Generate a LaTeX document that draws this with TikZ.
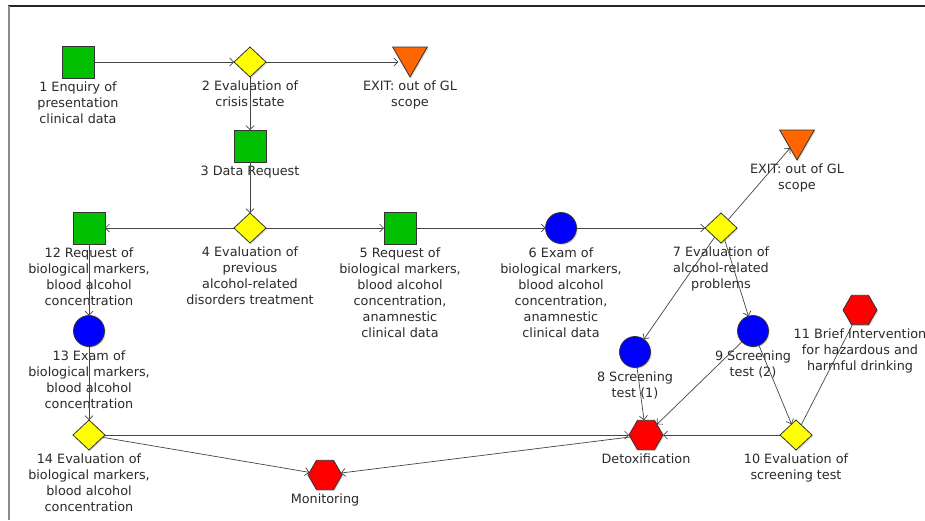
\documentclass[tikz,border=0pt]{standalone}
\usepackage{fontspec}
\setmainfont{DejaVu Sans}
\usepackage{xcolor}
\usetikzlibrary{arrows.meta, positioning, shapes.geometric, shadows}

\definecolor{taskgreen}{HTML}{00C000}
\definecolor{decyellow}{HTML}{FFFF00}
\definecolor{examblue}{HTML}{0000FF}
\definecolor{actred}{HTML}{FF0000}
\definecolor{exitorange}{HTML}{FF6600}
\definecolor{outline}{HTML}{333333}
\definecolor{linegray}{HTML}{444444}
\definecolor{labelgray}{HTML}{2A2A2A}

\begin{document}
\begin{tikzpicture}[x=1pt, y=1pt,
    node distance=4pt,
    shapebase/.style={draw=outline, line width=0.8pt, inner sep=0pt, outer sep=0pt,
                      drop shadow={shadow xshift=1.2pt, shadow yshift=-1.2pt, opacity=0.3}},
    task/.style={shapebase, rectangle, fill=taskgreen, minimum size=32pt},
    decision/.style={shapebase, diamond, fill=decyellow, minimum width=32pt, minimum height=30pt},
    exam/.style={shapebase, circle, fill=examblue, minimum size=31pt},
    action/.style={shapebase, regular polygon, regular polygon sides=6, fill=actred, minimum size=34pt},
    exitpt/.style={shapebase, regular polygon, regular polygon sides=3, shape border rotate=180,
                   fill=exitorange, minimum size=40pt},
    txt/.style={align=center, inner sep=0pt, text=labelgray, font=\fontsize{12.8}{16}\selectfont},
    flow/.style={-{Straight Barb[length=4pt, width=8pt]}, line width=0.7pt, draw=linegray},
    plain/.style={line width=0.7pt, draw=linegray}]
    \useasboundingbox (0,0) rectangle (925,-520);
    % frame
    \draw[line width=1.3pt, black!85] (8,-6) -- (925,-6);
    \draw[line width=1.3pt, black!45] (9,-6) -- (9,-520);
    % top row
    \node[task] (n1) at (78,-62) {};
    \node[decision] (n2) at (250,-62) {};
    \node[exitpt] (exit1) at (410,-57) {};
    \node[task] (n3) at (250,-146) {};
    % middle row
    \node[decision] (n4) at (250,-228) {};
    \node[task] (n12) at (89,-228) {};
    \node[task] (n5) at (400,-228) {};
    \node[exam] (n6) at (561,-228) {};
    \node[decision] (n7) at (721,-228) {};
    \node[exitpt] (exit2) at (797,-140) {};
    % left column
    \node[exam] (n13) at (89,-331) {};
    \node[decision] (n14) at (89,-435) {};
    \node[action] (mon) at (325,-475) {};
    % right part
    \node[exam] (n8) at (635,-352) {};
    \node[exam] (n9) at (753,-331) {};
    \node[action] (n11) at (860,-310) {};
    \node[action] (detox) at (646,-435) {};
    \node[decision] (n10) at (796,-435) {};
    % labels
    \node[txt, below=of n1] (l1) {1 Enquiry of\\presentation\\clinical data};
    \node[txt, below=of n2] (l2) {2 Evaluation of\\crisis state};
    \node[txt, below=of exit1] (lexit1) {EXIT: out of GL\\scope};
    \node[txt, below=of n3] (l3) {3 Data Request};
    \node[txt, below=of n4] (l4) {4 Evaluation of\\previous\\alcohol-related\\disorders treatment};
    \node[txt, below=of n12] (l12) {12 Request of\\biological markers,\\blood alcohol\\concentration};
    \node[txt, below=of n5] (l5) {5 Request of\\biological markers,\\blood alcohol\\concentration,\\anamnestic\\clinical data};
    \node[txt, below=of n6] (l6) {6 Exam of\\biological markers,\\blood alcohol\\concentration,\\anamnestic\\clinical data};
    \node[txt, below=of n7] (l7) {7 Evaluation of\\alcohol-related\\problems};
    \node[txt, below=of exit2] (lexit2) {EXIT: out of GL\\scope};
    \node[txt, below=of n13] (l13) {13 Exam of\\biological markers,\\blood alcohol\\concentration};
    \node[txt, below=of n14] (l14) {14 Evaluation of\\biological markers,\\blood alcohol\\concentration};
    \node[txt, below=of mon] (lmon) {Monitoring};
    \node[txt, below=of n8] (l8) {8 Screening\\test (1)};
    \node[txt, below=of n9] (l9) {9 Screening\\test (2)};
    \node[txt, below=of n11] (l11) {11 Brief Intervention\\for hazardous and\\harmful drinking};
    \node[txt, below=of detox] (ldetox) {Detoxification};
    \node[txt, below=of n10] (l10) {10 Evaluation of\\screening test};
    % edges
    \draw[flow] (n1) -- (n2);
    \draw[flow] (n2) -- (n2 -| exit1.west);
    \draw[flow] (n2) -- (n3);
    \draw[flow] (n3) -- (n4);
    \draw[flow] (n4) -- (n12);
    \draw[flow] (n4) -- (n5);
    \draw[flow] (n5) -- (n6);
    \draw[flow] (n6) -- (n7);
    \draw[flow] (n7) -- (exit2);
    \draw[flow] (n7) -- (n8);
    \draw[flow] (n7) -- (n9);
    \draw[flow] (n8) -- (detox);
    \draw[flow] (n9) -- (detox);
    \draw[flow] (n9) -- (n10);
    \draw[flow] (n10) -- (detox);
    \draw[plain] (n10) -- (n11);
    \draw[flow] (n12) -- (n13);
    \draw[flow] (n13) -- (n14);
    \draw[flow] (n14) -- (detox);
    \draw[flow] (n14) -- (mon);
    \draw[flow] (detox) -- (mon);
\end{tikzpicture}
\end{document}
